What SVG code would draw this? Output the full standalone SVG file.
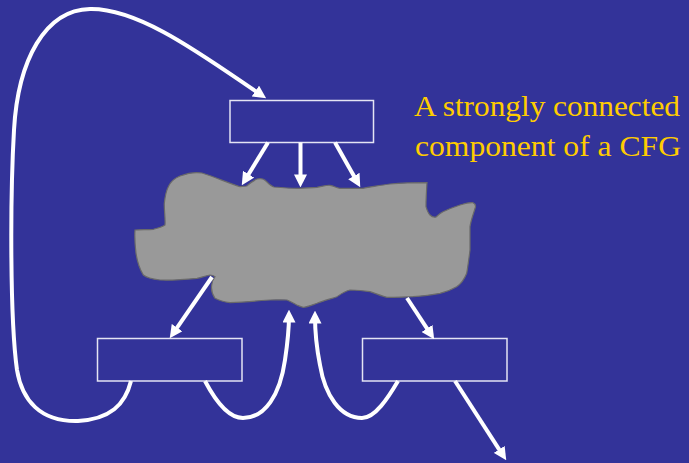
<svg xmlns="http://www.w3.org/2000/svg" width="689" height="463" viewBox="0 0 689 463">
<defs>
<style>
.box{fill:none;stroke:#e4e4f4;stroke-width:1.5}
.edge{fill:none;stroke:#ffffff;stroke-width:4;marker-end:url(#ah)}
.label{font-size:30px;fill:#ffcc00}
</style>
<marker id="ah" markerUnits="userSpaceOnUse" viewBox="0 0 12 12" markerWidth="13" markerHeight="13" refX="7" refY="6" orient="auto">
<path d="M0,0 L12,6 L0,12 z" fill="#ffffff"/>
</marker>
</defs>
<rect x="0" y="0" width="689" height="463" fill="#333399"/>
<g id="scc">
<path d="M180,176 C188,173 196,172 202,173 C215,177 228,183 240,186.7 L246.7,186 C250,183 253,181 257,179 C262,178 264,179 267,182 C270,185 272,186.5 274,187 C285,188 292,188.5 300,188.3 C306,188 312,187.5 317,187.3 C322,186.5 326,185 330,185.3 C334,186 337,188 340,188.3 C348,188.5 356,188.5 363,188.3 C372,187 381,185 390,184 C402,183 414,182.7 427,182.7 C426.5,190 426,198 426,206.7 C427,210 428,213 430,215 C432,217 434,217.5 436,217 C438,215 440,213 443,211.7 C449,209 454,207 460,205 C465,203.5 470,202 473,202.7 C476,204 476,206 475,208.5 C473,215 471,220 470,226.7 C470,234 470,242 470,250 C469,258 468,266 466.7,273.3 C464,280 461,284 456.7,286.7 C451,290 446,292 440,293.3 C431,295 422,296 413,296.7 C404,297 395,297.5 387,297.3 C381,296 375,293 370,291.7 C363,290.5 356,290 350,290 C345,291 341,294 337,296.7 C330,299 323,301 317,303.3 C312,305 307,307 303.3,307.3 C301,307 299,306 296.7,305 C293,303 290,301 287,300 C281,299.5 276,300 270,300 C257,301 243,302 230,302.7 C224,302 219,300.5 215,298.3 C212,294 211,290 211.7,285 C212,281 214,278 215,276.7 C213,275 211.5,275 210,275 C205,276 201,277.5 197,278.3 C185,279.5 172,280.5 160,280 C152,279 147,278 143.3,275 C139,268 137,260 136,253.3 C135,245 134.5,237 135,230 C141,229.5 147,229.8 153.3,229.3 C158,228 162,227 165,225 C165.5,218 164,210 164.3,203.3 C165,197 166,191 168.3,186.7 C171,181 175,178 180,176 z" fill="#999999" stroke="#6a6a6a" stroke-width="1.2"/>
</g>
<g id="top-box"><rect class="box" x="230" y="100.5" width="143.5" height="42"/></g>
<g id="bottom-left-box"><rect class="box" x="97.5" y="338.5" width="144.5" height="42.5"/></g>
<g id="bottom-right-box"><rect class="box" x="362.5" y="338.5" width="144.5" height="42.5"/></g>
<g id="connectors">
<path class="edge" d="M131,381 C125,405 110,419 78,421 C40,422 22,400 17,370 C10,320 10,200 14,130 C18,60 45,10 90,9 C140,8 205,57 261.7,95.3"/>
<path class="edge" d="M268,142.5 L244.6,180.7"/>
<path class="edge" d="M300.5,142.5 L300.5,182"/>
<path class="edge" d="M335,142.5 L357.6,182.6"/>
<path class="edge" d="M212,277 L172.8,333.9"/>
<path class="edge" d="M407,298 L431.2,334.8"/>
<path class="edge" d="M455,381 L503.3,455.8"/>
<path class="edge" d="M205,381 C215,400 228,418 243,418 C265,418 280,395 285,360 C288,340 289,325 289,315"/>
<path class="edge" d="M398,381 C388,398 375,418 362,418 C340,418 325,395 320,365 C316,345 315,325 315,316"/>
</g>
<g id="caption">
<text class="label" font-family="'Times New Roman', Times, 'Liberation Serif', 'DejaVu Serif', serif" x="414" y="116" textLength="266" lengthAdjust="spacingAndGlyphs">A strongly connected</text>
<text class="label" font-family="'Times New Roman', Times, 'Liberation Serif', 'DejaVu Serif', serif" x="415" y="156" textLength="266" lengthAdjust="spacingAndGlyphs">component of a CFG</text>
</g>
</svg>
